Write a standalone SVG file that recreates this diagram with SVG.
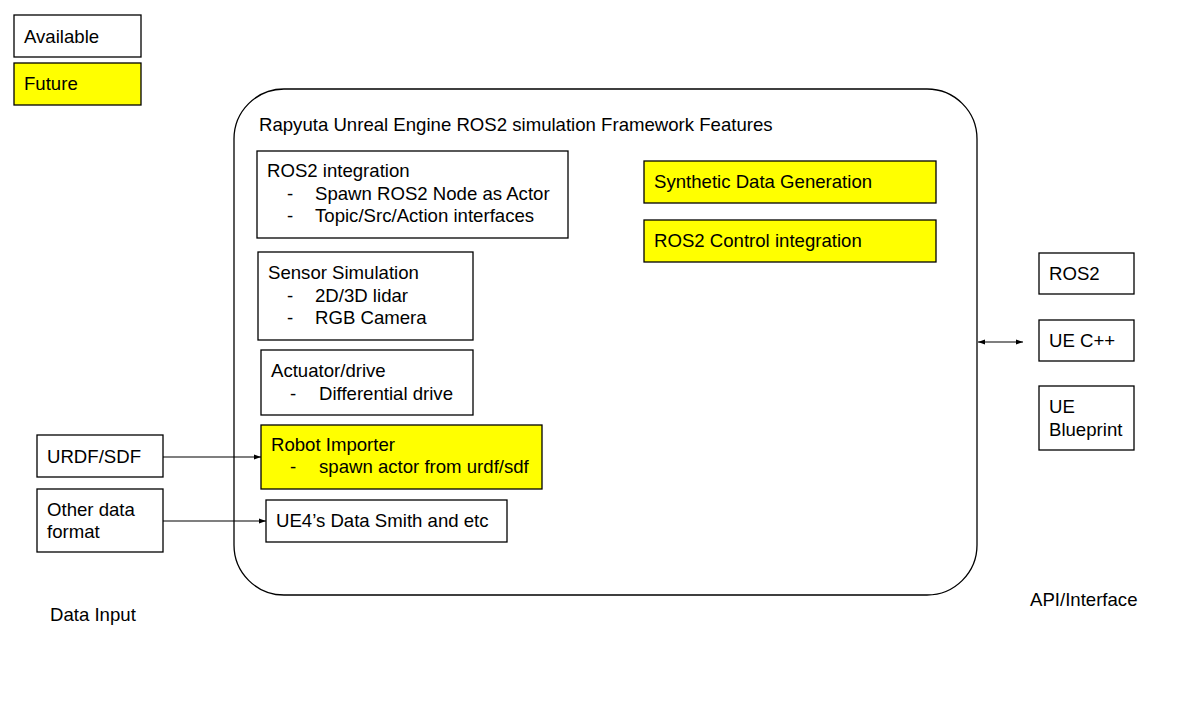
<svg xmlns="http://www.w3.org/2000/svg" width="1187" height="704" viewBox="0 0 1187 704">
<style>
.b{fill:#ffffff;stroke:#000000;stroke-width:1.3}
.y{fill:#ffff00;stroke:#000000;stroke-width:1.3}
text{font-family:"Liberation Sans",Arial,sans-serif;font-size:18.6px;fill:#000000}
.c{stroke:#000000;stroke-width:1.2;fill:none}
</style>
<defs>
<marker id="ah" viewBox="0 0 10 10" refX="10" refY="5" markerWidth="7" markerHeight="7" orient="auto-start-reverse" markerUnits="userSpaceOnUse">
<path d="M0,1.5 L10,5 L0,8.5 z" fill="#000000"/>
</marker>
</defs>
<rect width="1187" height="704" fill="#ffffff"/>
<g id="legend-available"><rect class="b" x="14" y="15" width="127" height="42"/><text x="24" y="43">Available</text></g>
<g id="legend-future"><rect class="y" x="14" y="63" width="127" height="42"/><text x="24" y="90">Future</text></g>
<g id="framework"><rect class="b" x="234" y="89" width="743" height="506" rx="50" ry="50"/><text x="259" y="131">Rapyuta Unreal Engine ROS2 simulation Framework Features</text></g>
<g id="ros2-integration"><rect class="b" x="257" y="151" width="311" height="87"/>
<text x="267" y="177">ROS2 integration</text>
<text x="287" y="200">-</text><text x="315" y="200">Spawn ROS2 Node as Actor</text>
<text x="287" y="222">-</text><text x="315" y="222">Topic/Src/Action interfaces</text></g>
<g id="sensor-simulation"><rect class="b" x="258" y="252" width="215" height="88"/>
<text x="268" y="279">Sensor Simulation</text>
<text x="287" y="302">-</text><text x="315" y="302">2D/3D lidar</text>
<text x="287" y="324">-</text><text x="315" y="324">RGB Camera</text></g>
<g id="actuator"><rect class="b" x="261" y="350" width="212" height="65"/>
<text x="271" y="377">Actuator/drive</text>
<text x="290" y="400">-</text><text x="319" y="400">Differential drive</text></g>
<g id="robot-importer"><rect class="y" x="261" y="425" width="281" height="64"/>
<text x="271" y="451">Robot Importer</text>
<text x="290" y="473">-</text><text x="319" y="473">spawn actor from urdf/sdf</text></g>
<g id="datasmith"><rect class="b" x="266" y="500" width="241" height="42"/><text x="276" y="527">UE4’s Data Smith and etc</text></g>
<g id="synthetic"><rect class="y" x="644" y="161" width="292" height="42"/><text x="654" y="188">Synthetic Data Generation</text></g>
<g id="ros2-control"><rect class="y" x="644" y="220" width="292" height="42"/><text x="654" y="247">ROS2 Control integration</text></g>
<g id="api-ros2"><rect class="b" x="1039" y="253" width="95" height="41"/><text x="1049" y="280">ROS2</text></g>
<g id="api-cpp"><rect class="b" x="1039" y="320" width="95" height="41"/><text x="1049" y="347">UE C++</text></g>
<g id="api-blueprint"><rect class="b" x="1039" y="386" width="95" height="64"/><text x="1049" y="413">UE</text><text x="1049" y="436">Blueprint</text></g>
<g id="urdf"><rect class="b" x="37" y="435" width="126" height="42"/><text x="47" y="463">URDF/SDF</text></g>
<g id="other-data"><rect class="b" x="37" y="489" width="126" height="63"/><text x="47" y="516">Other data</text><text x="47" y="538">format</text></g>
<g id="label-data-input"><text x="50" y="621">Data Input</text></g>
<g id="label-api"><text x="1030" y="606">API/Interface</text></g>
<g id="connectors">
<line class="c" x1="163" y1="457" x2="261" y2="457" marker-end="url(#ah)"/>
<line class="c" x1="163" y1="521" x2="266" y2="521" marker-end="url(#ah)"/>
<line class="c" x1="978" y1="342" x2="1023" y2="342" marker-start="url(#ah)" marker-end="url(#ah)"/>
</g>
</svg>
